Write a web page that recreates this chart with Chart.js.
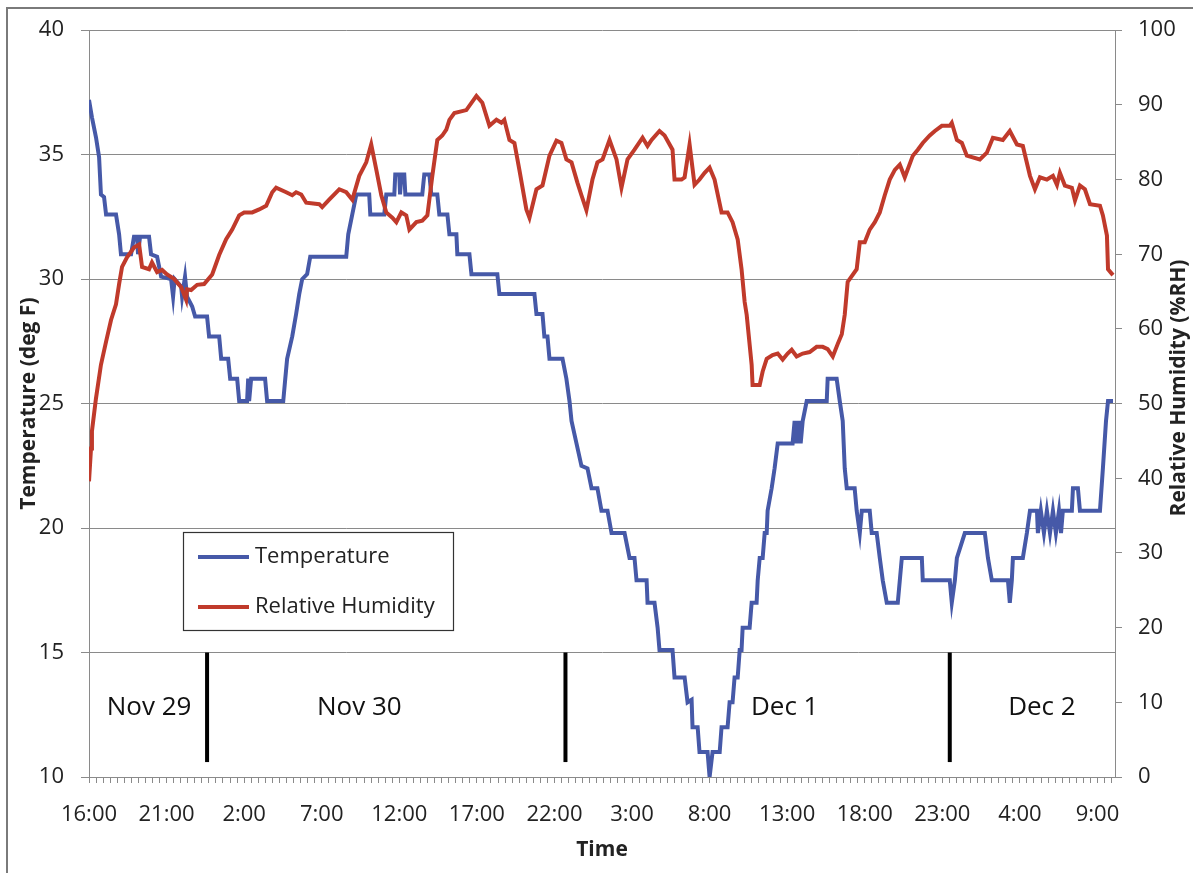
<!DOCTYPE html>
<html>
<head>
<meta charset="utf-8">
<script src="https://cdn.jsdelivr.net/npm/chart.js@4.4.0/dist/chart.umd.min.js"></script>
<style>
  html, body { margin: 0; padding: 0; background: #fff; }
  #wrap { width: 1193px; height: 873px; }
</style>
</head>
<body>
<div id="wrap"><canvas id="chart" width="1193" height="873"></canvas></div>
<script>
// time is kept as hours elapsed since 16:00 on Nov 29
const startClockHour = 16;
const lastHour = 66.13;

const tempHours = [
  0, 0.19, 0.45, 0.65, 0.77, 0.97, 1.10, 1.74, 1.94, 2.06, 2.71, 2.90, 3.10, 3.16, 3.29, 3.87, 4.00, 4.39, 4.65, 5.29,
  5.42, 5.52, 5.94, 6.00, 6.19, 6.32, 6.65, 6.84, 7.61, 7.74, 8.39, 8.52, 8.97, 9.10, 9.55, 9.68, 10.19, 10.26, 10.32, 10.45,
  11.35, 11.48, 12.52, 12.65, 12.77, 13.10, 13.35, 13.55, 13.74, 14.06, 14.26, 16.58, 16.71, 16.97, 17.23, 18.06, 18.13, 19.03, 19.16, 19.68,
  19.74, 20.00, 20.05, 20.13, 20.32, 20.39, 21.48, 21.61, 21.94, 22.06, 22.45, 22.58, 23.10, 23.23, 23.68, 23.74, 24.52, 24.65, 26.32, 26.45,
  28.71, 28.84, 29.23, 29.35, 29.55, 29.68, 30.52, 30.77, 30.97, 31.10, 31.42, 31.74, 32.13, 32.39, 32.77, 33.03, 33.42, 33.68, 34.52, 34.84,
  35.16, 35.29, 35.94, 36.00, 36.45, 36.65, 36.77, 37.61, 37.74, 38.39, 38.58, 38.84, 38.90, 39.23, 39.35, 39.87, 40.00, 40.19, 40.65, 40.77,
  41.16, 41.29, 41.48, 41.61, 41.81, 41.94, 42.06, 42.13, 42.58, 42.71, 43.03, 43.10, 43.23, 43.42, 43.55, 43.68, 43.74, 44.00, 44.19, 44.39,
  45.35, 45.48, 45.61, 45.74, 45.87, 46.00, 46.26, 47.55, 47.61, 48.19, 48.39, 48.58, 48.71, 48.84, 49.35, 49.48, 49.68, 49.81, 50.32, 50.45,
  50.77, 50.97, 51.16, 51.42, 52.13, 52.26, 52.39, 53.68, 53.74, 55.48, 55.61, 55.81, 55.94, 56.45, 57.74, 57.94, 58.19, 59.23, 59.35, 59.48,
  59.55, 60.19, 60.45, 60.65, 61.10, 61.16, 61.35, 61.55, 61.74, 61.94, 62.13, 62.32, 62.52, 62.65, 62.77, 63.35, 63.42, 63.74, 63.87, 65.16,
  65.35, 65.55, 65.68, 66.00
];
const tempValues = [
  37.2, 36.5, 35.7, 34.9, 33.4, 33.3, 32.6, 32.6, 31.8, 31.0, 31.0, 31.7, 31.7, 31.0, 31.7, 31.7, 31.0, 30.9, 30.1, 30.0,
  29.3, 30.0, 29.7, 29.3, 30.1, 29.3, 28.9, 28.5, 28.5, 27.7, 27.7, 26.8, 26.8, 26.0, 26.0, 25.1, 25.1, 26.0, 25.1, 26.0,
  26.0, 25.1, 25.1, 26.0, 26.8, 27.7, 28.6, 29.4, 30.0, 30.2, 30.9, 30.9, 31.8, 32.6, 33.4, 33.4, 32.6, 32.6, 33.4, 33.4,
  34.2, 34.2, 33.4, 34.2, 34.2, 33.4, 33.4, 34.2, 34.2, 33.4, 33.4, 32.6, 32.6, 31.8, 31.8, 31.0, 31.0, 30.2, 30.2, 29.4,
  29.4, 28.6, 28.6, 27.7, 27.7, 26.8, 26.8, 26.0, 25.1, 24.3, 23.4, 22.5, 22.4, 21.6, 21.6, 20.7, 20.7, 19.8, 19.8, 18.8,
  18.8, 17.9, 17.9, 17.0, 17.0, 16.0, 15.1, 15.1, 14.0, 14.0, 13.0, 13.1, 12.0, 12.0, 11.0, 11.0, 10.0, 11.0, 11.0, 12.0,
  12.0, 13.0, 13.0, 14.0, 14.0, 15.1, 15.1, 16.0, 16.0, 17.0, 17.0, 17.9, 18.8, 18.8, 19.8, 19.8, 20.7, 21.6, 22.4, 23.4,
  23.4, 24.3, 23.4, 24.3, 23.4, 24.3, 25.1, 25.1, 26.0, 26.0, 25.1, 24.3, 22.4, 21.6, 21.6, 20.7, 19.8, 20.7, 20.7, 19.8,
  19.8, 18.8, 17.9, 17.0, 17.0, 17.9, 18.8, 18.8, 17.9, 17.9, 17.0, 17.9, 18.8, 19.8, 19.8, 18.8, 17.9, 17.9, 17.0, 17.9,
  18.8, 18.8, 19.8, 20.7, 20.7, 19.8, 20.7, 19.8, 20.7, 19.8, 20.7, 19.8, 20.7, 19.8, 20.7, 20.7, 21.6, 21.6, 20.7, 20.7,
  22.4, 24.3, 25.1, 25.1
];

const rhHours = [
  0, 0.13, 0.19, 0.45, 0.77, 1.10, 1.42, 1.74, 1.94, 2.13, 2.45, 2.90, 3.23, 3.42, 3.87, 4.06, 4.39, 4.71, 5.03, 5.48,
  5.94, 6.26, 6.32, 6.58, 6.97, 7.42, 7.94, 8.39, 8.84, 9.23, 9.68, 10.00, 10.52, 10.97, 11.42, 11.81, 12.06, 12.71, 13.10, 13.35,
  13.68, 14.00, 14.84, 15.03, 15.48, 16.13, 16.58, 16.97, 17.42, 17.87, 18.19, 18.52, 18.84, 19.16, 19.55, 19.81, 20.13, 20.45, 20.65, 21.10,
  21.48, 21.81, 22.13, 22.45, 22.77, 23.03, 23.23, 23.55, 24.32, 24.97, 25.35, 25.81, 26.26, 26.58, 26.77, 27.10, 27.42, 27.74, 28.19, 28.39,
  28.84, 29.23, 29.68, 30.13, 30.45, 30.77, 31.10, 31.48, 31.74, 32.06, 32.45, 32.77, 33.10, 33.55, 34.00, 34.32, 34.71, 35.16, 35.68, 36.00,
  36.26, 36.77, 37.10, 37.61, 37.74, 38.19, 38.39, 38.71, 39.03, 39.35, 39.68, 40.00, 40.32, 40.77, 41.16, 41.48, 41.81, 42.06, 42.26, 42.39,
  42.71, 42.77, 43.23, 43.42, 43.68, 44.06, 44.39, 44.71, 45.03, 45.29, 45.61, 46.00, 46.45, 46.90, 47.29, 47.61, 47.94, 48.26, 48.52, 48.71,
  48.90, 49.48, 49.68, 50.00, 50.32, 50.65, 50.97, 51.29, 51.61, 51.94, 52.26, 52.58, 53.10, 53.42, 53.74, 54.19, 54.52, 54.97, 55.48, 55.61,
  55.94, 56.26, 56.58, 57.42, 57.87, 58.26, 58.90, 59.35, 59.81, 60.19, 60.65, 60.97, 61.29, 61.74, 62.13, 62.39, 62.58, 62.90, 63.35, 63.55,
  63.87, 64.19, 64.52, 65.16, 65.35, 65.61, 65.68, 66.00
];
const rhValues = [
  39.6, 44.0, 46.3, 50.7, 55.2, 58.3, 61.2, 63.3, 66.0, 68.3, 69.6, 70.9, 71.3, 68.3, 68.0, 68.9, 67.6, 67.9, 67.3, 66.7,
  65.6, 63.9, 65.3, 65.2, 65.9, 66.0, 67.3, 69.9, 72.0, 73.3, 75.2, 75.6, 75.6, 76.0, 76.5, 78.3, 78.9, 78.3, 77.9, 78.3,
  78.0, 76.9, 76.7, 76.3, 77.3, 78.7, 78.3, 77.3, 80.5, 82.3, 84.7, 81.3, 77.9, 75.6, 74.9, 74.3, 75.6, 75.2, 73.3, 74.3,
  74.5, 75.2, 80.5, 85.3, 85.9, 86.7, 88.0, 88.9, 89.3, 91.2, 90.3, 87.2, 88.0, 87.6, 88.0, 85.3, 84.9, 81.3, 76.0, 74.9,
  78.7, 79.2, 83.2, 85.2, 84.9, 82.7, 82.3, 79.6, 77.9, 75.9, 80.0, 82.3, 82.7, 85.3, 82.7, 78.9, 82.7, 84.0, 85.6, 84.5,
  85.3, 86.5, 85.9, 84.0, 80.0, 80.0, 80.3, 84.7, 79.3, 80.0, 80.9, 81.6, 80.0, 75.6, 75.6, 74.3, 72.0, 68.0, 63.6, 61.9,
  55.2, 52.5, 52.5, 54.3, 56.0, 56.5, 56.7, 55.9, 56.7, 57.2, 56.3, 56.7, 56.9, 57.6, 57.6, 57.3, 56.3, 58.0, 59.3, 61.9,
  66.3, 68.0, 71.6, 71.6, 73.3, 74.3, 75.6, 77.9, 80.0, 81.3, 82.0, 80.3, 83.2, 84.0, 84.9, 85.9, 86.5, 87.2, 87.2, 87.6,
  85.3, 84.9, 83.2, 82.7, 83.6, 85.6, 85.3, 86.5, 84.7, 84.5, 80.5, 78.7, 80.3, 80.0, 80.5, 79.3, 80.9, 79.2, 78.9, 77.2,
  79.2, 78.7, 76.7, 76.5, 75.2, 72.5, 68.0, 67.2
];

const dayLabels = ['Nov 29', 'Nov 30', 'Dec 1', 'Dec 2'];
const dayLabelHours = [3.87, 17.42, 44.84, 61.42];
const dayLabelTemp = 12.8;
const dayDividerHours = [7.61, 30.71, 55.48];
const dividerTop = 15.0;
const dividerBottom = 10.6;

const textColor = '#222';
const gridColor = '#8a8a8a';

function toPoints(xs, ys) {
  return xs.map((x, i) => ({ x, y: ys[i] }));
}

const overlayPlugin = {
  id: 'overlay',
  beforeDraw(chart) {
    const { ctx } = chart;
    ctx.save();
    ctx.fillStyle = '#fff';
    ctx.fillRect(0, 0, chart.width, chart.height);
    ctx.strokeStyle = '#7a7a7a';
    ctx.lineWidth = 2;
    ctx.strokeRect(7, 8, chart.width + 20, chart.height + 20);
    ctx.restore();
  },
  afterDraw(chart) {
    const { ctx } = chart;
    const xs = chart.scales.x;
    const ys = chart.scales.y;

    ctx.save();
    // day dividers
    ctx.strokeStyle = '#000';
    ctx.lineWidth = 4;
    dayDividerHours.forEach((h) => {
      const px = xs.getPixelForValue(h);
      ctx.beginPath();
      ctx.moveTo(px, ys.getPixelForValue(dividerTop));
      ctx.lineTo(px, ys.getPixelForValue(dividerBottom));
      ctx.stroke();
    });

    // day names
    ctx.fillStyle = '#111';
    ctx.font = '26px "Open Sans"';
    ctx.textAlign = 'center';
    ctx.textBaseline = 'middle';
    dayLabels.forEach((label, i) => {
      ctx.fillText(label, xs.getPixelForValue(dayLabelHours[i]), ys.getPixelForValue(dayLabelTemp));
    });

    // legend box
    ctx.strokeStyle = '#333';
    ctx.lineWidth = 1.2;
    ctx.strokeRect(183.5, 532.5, 270, 98);
    ctx.font = '22px "Open Sans"';
    ctx.textAlign = 'left';
    chart.data.datasets.forEach((ds, i) => {
      const y = 557 + i * 50;
      ctx.strokeStyle = ds.borderColor;
      ctx.lineWidth = 4;
      ctx.beginPath();
      ctx.moveTo(198, y);
      ctx.lineTo(249, y);
      ctx.stroke();
      ctx.fillStyle = textColor;
      ctx.fillText(ds.label, 255, y);
    });

    // right axis title, reading bottom to top
    ctx.translate(1179, 388);
    ctx.rotate(-Math.PI / 2);
    ctx.font = 'bold 21px "Open Sans"';
    ctx.textAlign = 'center';
    ctx.fillStyle = textColor;
    ctx.fillText('Relative Humidity (%RH)', 0, 0);
    ctx.restore();
  }
};

new Chart(document.getElementById('chart'), {
  type: 'line',
  data: {
    datasets: [
      {
        label: 'Temperature',
        data: toPoints(tempHours, tempValues),
        borderColor: '#4659a8',
        borderWidth: 4,
        pointRadius: 0,
        tension: 0,
        yAxisID: 'y',
        order: 1,
      },
      {
        label: 'Relative Humidity',
        data: toPoints(rhHours, rhValues),
        borderColor: '#c03a2b',
        borderWidth: 4,
        pointRadius: 0,
        tension: 0,
        yAxisID: 'y1',
        order: 0,
      },
    ],
  },
  options: {
    responsive: false,
    animation: false,
    devicePixelRatio: 1,
    layout: { padding: { top: 25, left: 0, right: 0, bottom: 0 } },
    plugins: {
      legend: { display: false },
      tooltip: { enabled: false },
    },
    scales: {
      x: {
        type: 'linear',
        min: 0,
        max: lastHour,
        afterFit: (scale) => { scale.height = 96; },
        grid: {
          drawOnChartArea: false,
          drawTicks: true,
          tickLength: 6,
          color: gridColor,
        },
        border: { color: gridColor },
        ticks: {
          stepSize: 5 / 11,
          autoSkip: false,
          maxRotation: 0,
          includeBounds: false,
          padding: 19,
          color: textColor,
          font: { family: 'Open Sans', size: 22 },
          callback: (value) => {
            const n = Math.round(value / (5 / 11));
            if (n % 11 !== 0) return '';
            const h = (startClockHour + Math.round(value)) % 24;
            return `${h}:00`;
          },
        },
        title: {
          display: true,
          text: 'Time',
          color: textColor,
          font: { family: 'Open Sans', size: 21, weight: 'bold' },
          padding: { top: 0, bottom: 10 },
        },
      },
      y: {
        position: 'left',
        min: 10,
        max: 40,
        afterFit: (scale) => { scale.width = 89; },
        grid: {
          color: gridColor,
          tickLength: 8,
        },
        border: { color: gridColor },
        ticks: {
          stepSize: 5,
          padding: 17,
          color: textColor,
          font: { family: 'Open Sans', size: 22 },
        },
        title: {
          display: true,
          text: 'Temperature (deg F)',
          color: textColor,
          font: { family: 'Open Sans', size: 21, weight: 'bold' },
          padding: { top: 16, bottom: 0 },
        },
      },
      y1: {
        position: 'right',
        min: 0,
        max: 100,
        afterFit: (scale) => { scale.width = 78; },
        grid: {
          drawOnChartArea: false,
          color: gridColor,
          tickLength: 7,
        },
        border: { color: gridColor },
        ticks: {
          stepSize: 10,
          padding: 16,
          color: textColor,
          font: { family: 'Open Sans', size: 22 },
        },
      },
    },
  },
  plugins: [overlayPlugin],
});
</script>
</body>
</html>
